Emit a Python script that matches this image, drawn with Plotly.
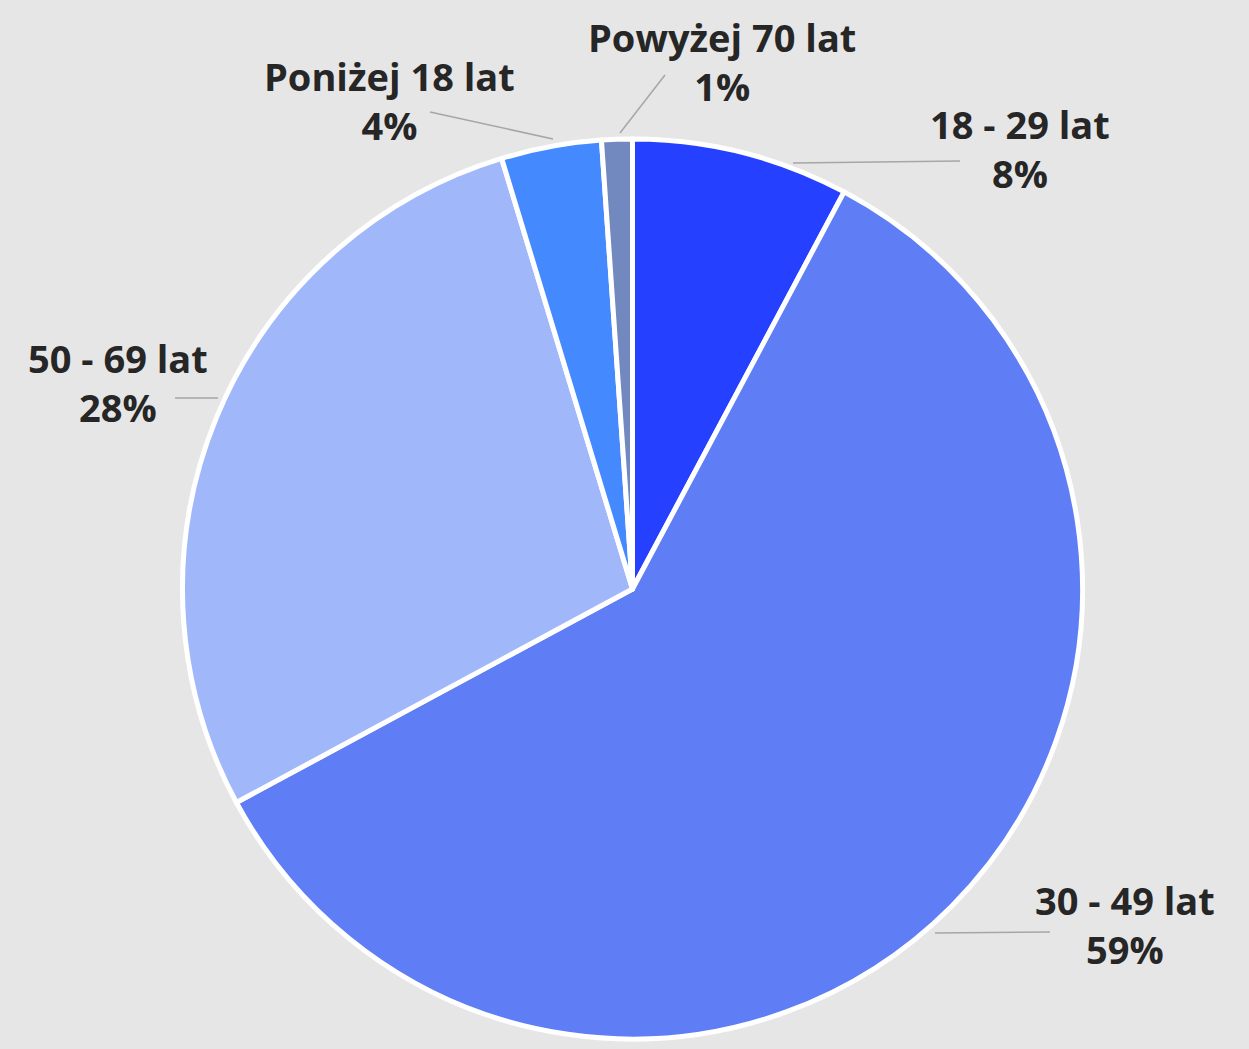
import plotly.graph_objects as go

# Data
categories = ["18 - 29 lat", "30 - 49 lat", "50 - 69 lat", "Poniżej 18 lat", "Powyżej 70 lat"]
values = [7.8, 59.4, 28.2, 3.6, 1.1]
colors = ["#2540FF", "#5F7DF4", "#A0B8FA", "#4589FF", "#7189BF"]

W, H = 1249, 1049
BG = "#E6E6E6"

def px(x):
    return x / W

def py(y):
    return 1 - y / H

# pie geometry (pixels)
cx, cy, r = 632.5, 589, 450

fig = go.Figure(go.Pie(
    labels=categories,
    values=values,
    sort=False,
    direction="clockwise",
    rotation=0,
    textinfo="none",
    hoverinfo="label+percent",
    marker=dict(colors=colors, line=dict(color="white", width=5)),
    domain=dict(x=[px(cx - r), px(cx + r)], y=[py(cy + r), py(cy - r)]),
    showlegend=False,
))

total = sum(values)
pcts = [round(v / total * 100) for v in values]

# label placement (layout, pixels): text center, leader line start/end
label_layout = {
    "18 - 29 lat": ((1020, 148), (960, 161), (793, 163)),
    "30 - 49 lat": ((1125, 924), (1050, 932), (935, 933)),
    "50 - 69 lat": ((118, 382), (175, 398), (218, 398)),
    "Poniżej 18 lat": ((389, 100), (430, 112), (553, 139)),
    "Powyżej 70 lat": ((722, 62), (665, 75), (620, 133)),
}

for cat, p in zip(categories, pcts):
    (tx, ty), (x0, y0), (x1, y1) = label_layout[cat]
    fig.add_annotation(
        x=px(tx), y=py(ty), xref="paper", yref="paper",
        text=f"<b>{cat}<br>{p}%</b>",
        showarrow=False, xanchor="center", yanchor="middle",
        font=dict(family="Open Sans, Noto Sans, sans-serif", size=38, color="#262626"),
        align="center",
    )
    fig.add_shape(
        type="line", xref="paper", yref="paper",
        x0=px(x0), y0=py(y0), x1=px(x1), y1=py(y1),
        line=dict(color="#A6A6A6", width=1.5),
    )

fig.update_layout(
    width=W, height=H,
    margin=dict(l=0, r=0, t=0, b=0),
    paper_bgcolor=BG,
    plot_bgcolor=BG,
)

fig.write_html(
    "out.html",
    config={"displayModeBar": False},
    post_script="document.body.style.margin='0';document.body.style.background='#E6E6E6';",
)
